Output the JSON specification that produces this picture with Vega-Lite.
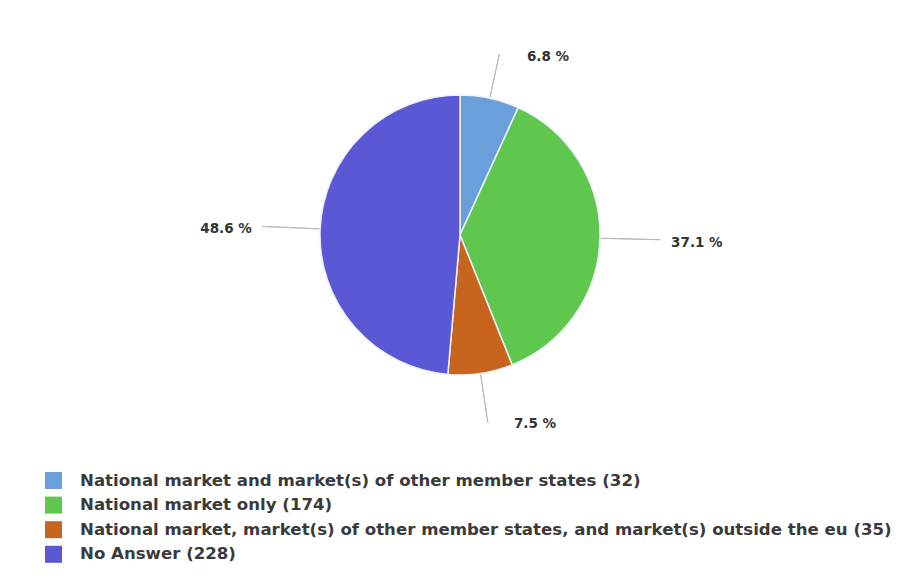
{
  "$schema": "https://vega.github.io/schema/vega-lite/v6.json",
  "width": 884,
  "height": 470,
  "autosize": {"type": "none"},
  "padding": {"left": 18, "top": 0, "right": 0, "bottom": 113},
  "background": "white",
  "config": {"view": {"stroke": null}},
  "data": {
    "values": [
      {"category": "National market and market(s) of other member states (32)", "count": 32, "rank": 1, "label": "6.8 %"},
      {"category": "National market only (174)", "count": 174, "rank": 2, "label": "37.1 %"},
      {"category": "National market, market(s) of other member states, and market(s) outside the eu (35)", "count": 35, "rank": 3, "label": "7.5 %"},
      {"category": "No Answer (228)", "count": 228, "rank": 4, "label": "48.6 %"}
    ]
  },
  "encoding": {
    "theta": {"field": "count", "type": "quantitative", "stack": true},
    "order": {"field": "rank", "type": "quantitative"},
    "detail": {"field": "category", "type": "nominal"}
  },
  "layer": [
    {
      "mark": {"type": "arc", "outerRadius": 140, "stroke": "#eef2ff", "strokeWidth": 1.5},
      "encoding": {
        "color": {
          "field": "category",
          "type": "nominal",
          "sort": null,
          "scale": {
            "domain": [
              "National market and market(s) of other member states (32)",
              "National market only (174)",
              "National market, market(s) of other member states, and market(s) outside the eu (35)",
              "No Answer (228)"
            ],
            "range": ["#6a9fdc", "#60c74e", "#c9641e", "#5a58d4"]
          },
          "legend": {
            "title": null,
            "orient": "none",
            "legendX": 27,
            "legendY": 472,
            "labelFont": "DejaVu Sans",
            "labelFontSize": 16.6,
            "labelFontWeight": "bold",
            "labelColor": "#3a3a3a",
            "labelLimit": 0,
            "labelOffset": 18,
            "symbolType": "square",
            "symbolSize": 289,
            "symbolStrokeWidth": 0,
            "symbolOpacity": 1,
            "rowPadding": 6.6
          }
        }
      }
    },
    {
      "mark": {"type": "arc", "innerRadius": 141, "outerRadius": 185, "padAngle": 3.14159, "fillOpacity": 0, "stroke": "#b8b8b8", "strokeWidth": 1},
      "encoding": {"strokeOpacity": {"condition": {"test": "datum.rank == 1", "value": 1}, "value": 0}}
    },
    {
      "mark": {"type": "arc", "innerRadius": 141, "outerRadius": 200, "padAngle": 3.14159, "fillOpacity": 0, "stroke": "#b8b8b8", "strokeWidth": 1},
      "encoding": {"strokeOpacity": {"condition": {"test": "datum.rank == 2", "value": 1}, "value": 0}}
    },
    {
      "mark": {"type": "arc", "innerRadius": 141, "outerRadius": 190, "padAngle": 3.14159, "fillOpacity": 0, "stroke": "#b8b8b8", "strokeWidth": 1},
      "encoding": {"strokeOpacity": {"condition": {"test": "datum.rank == 3", "value": 1}, "value": 0}}
    },
    {
      "mark": {"type": "arc", "innerRadius": 141, "outerRadius": 198, "padAngle": 3.14159, "fillOpacity": 0, "stroke": "#b8b8b8", "strokeWidth": 1},
      "encoding": {"strokeOpacity": {"condition": {"test": "datum.rank == 4", "value": 1}, "value": 0}}
    },
    {
      "mark": {"type": "text", "radius": 199, "thetaOffset": 0.244, "font": "DejaVu Sans", "fontSize": 13.5, "fontWeight": "bold", "fill": "#333333"},
      "encoding": {"text": {"condition": {"test": "datum.rank == 1", "field": "label", "type": "nominal"}, "value": ""}}
    },
    {
      "mark": {"type": "text", "radius": 237, "thetaOffset": 0.01, "font": "DejaVu Sans", "fontSize": 13.5, "fontWeight": "bold", "fill": "#333333"},
      "encoding": {"text": {"condition": {"test": "datum.rank == 2", "field": "label", "type": "nominal"}, "value": ""}}
    },
    {
      "mark": {"type": "text", "radius": 203, "thetaOffset": -0.231, "font": "DejaVu Sans", "fontSize": 13.5, "fontWeight": "bold", "fill": "#333333"},
      "encoding": {"text": {"condition": {"test": "datum.rank == 3", "field": "label", "type": "nominal"}, "value": ""}}
    },
    {
      "mark": {"type": "text", "radius": 234, "thetaOffset": -0.0175, "font": "DejaVu Sans", "fontSize": 13.5, "fontWeight": "bold", "fill": "#333333"},
      "encoding": {"text": {"condition": {"test": "datum.rank == 4", "field": "label", "type": "nominal"}, "value": ""}}
    }
  ]
}
